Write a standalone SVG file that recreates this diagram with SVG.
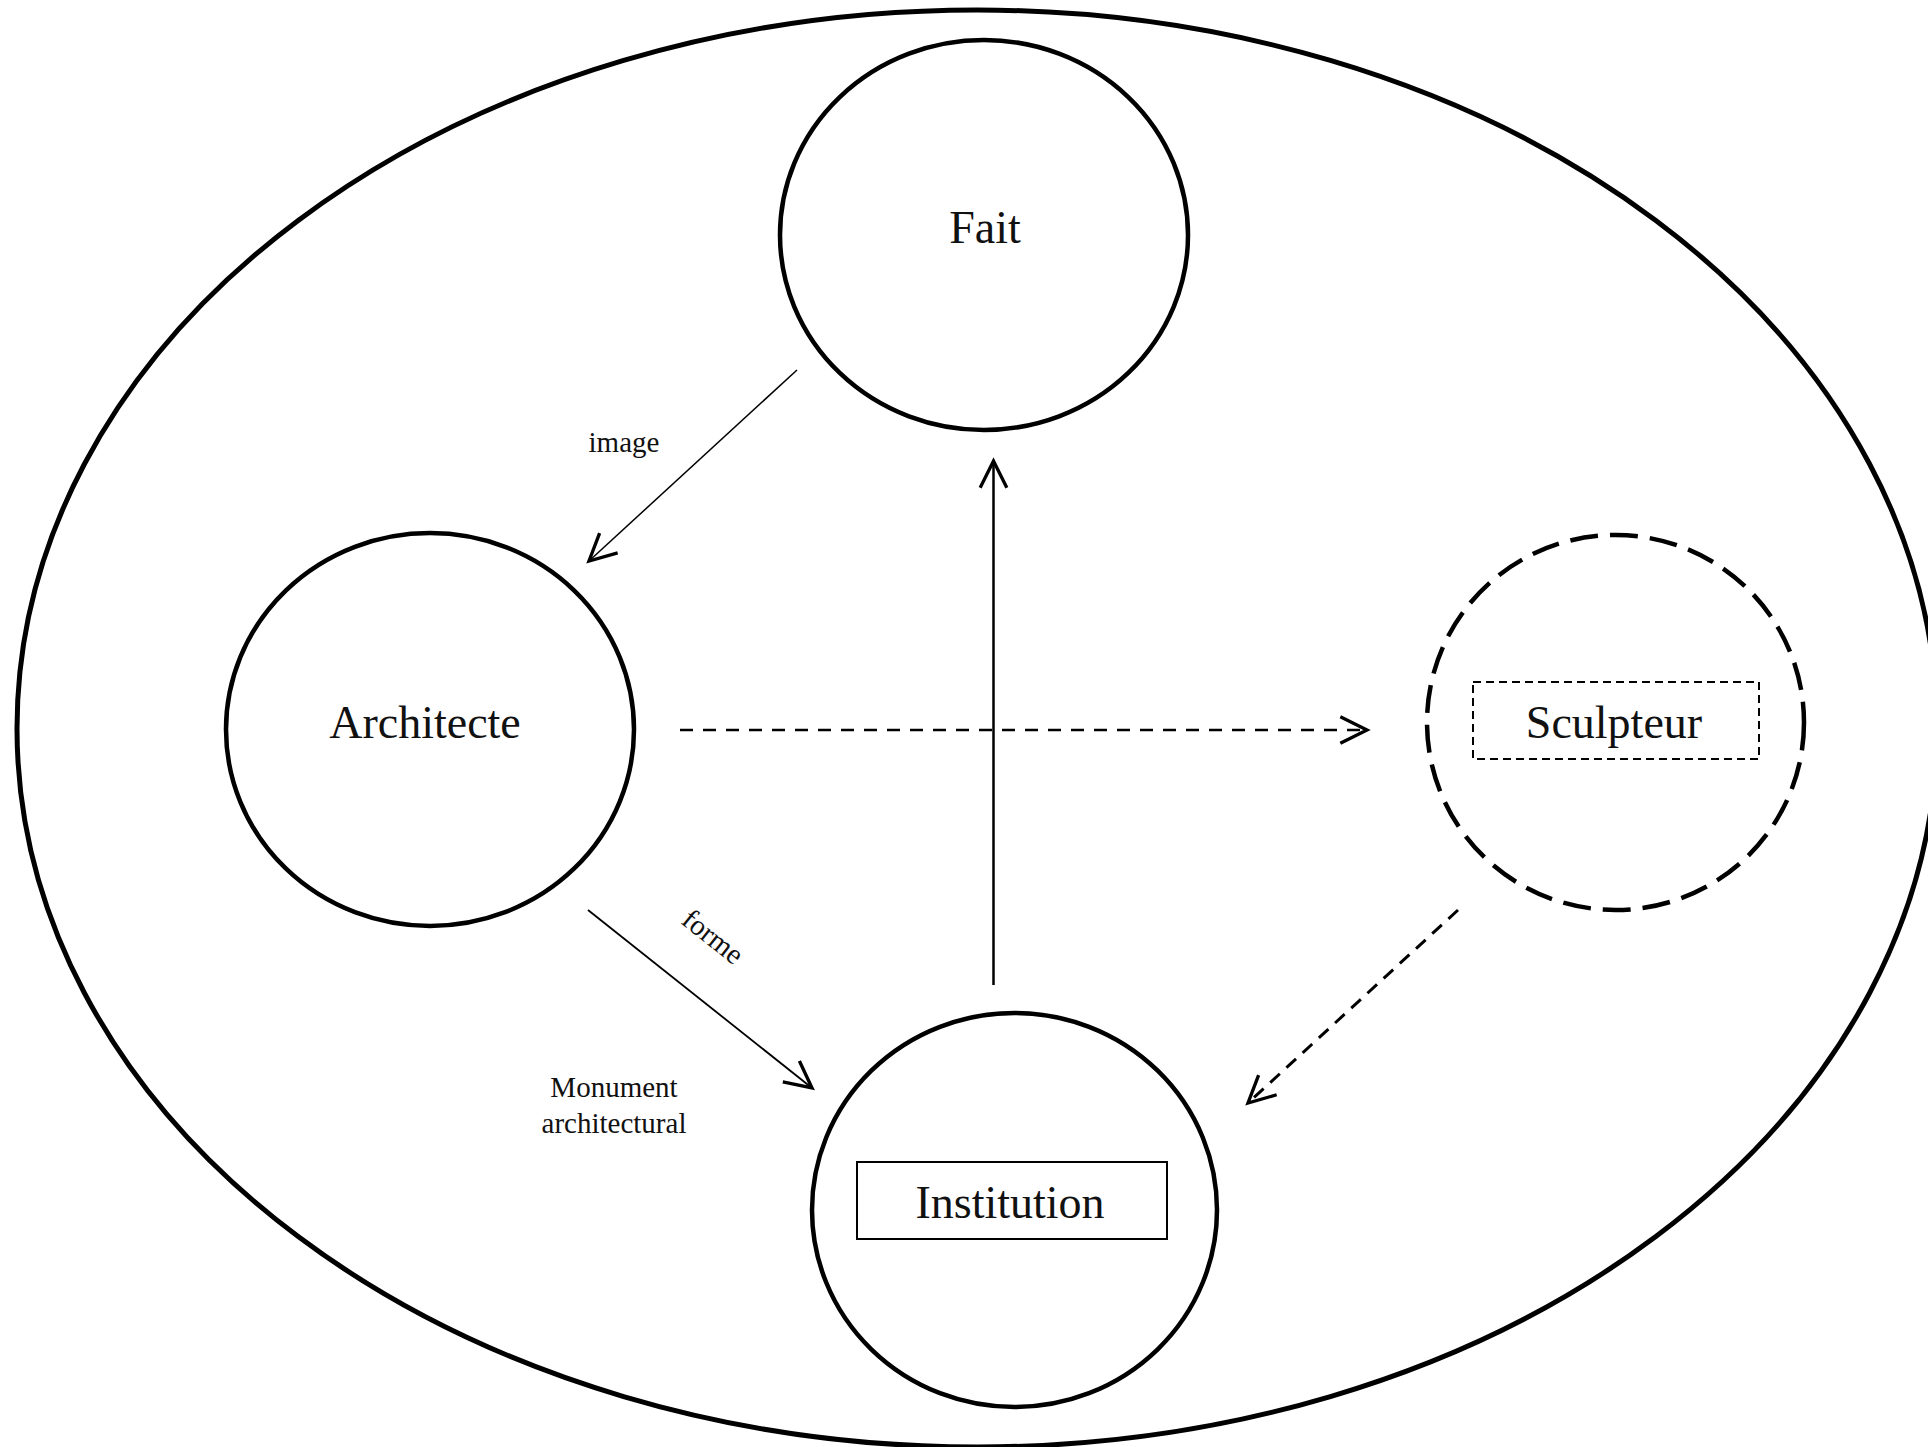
<svg xmlns="http://www.w3.org/2000/svg" width="1928" height="1447" viewBox="0 0 1928 1447">
<style>
.node{fill:none;stroke:#000;stroke-width:4.5}
.lbl{font-family:"Liberation Serif","Times New Roman",serif;font-size:46px;fill:#111;text-anchor:middle}
.small{font-family:"Liberation Serif","Times New Roman",serif;font-size:29px;fill:#111;text-anchor:middle}
.conn{fill:none;stroke:#000}
</style>
<defs>
<marker id="arr" markerUnits="userSpaceOnUse" markerWidth="40" markerHeight="40" refX="0" refY="0" viewBox="-25 -15 30 30" orient="auto" overflow="visible">
<path d="M -20 -10 L 0 0 L -20 10" fill="none" stroke="#000" stroke-width="2.5" stroke-linejoin="miter"/>
</marker>
<linearGradient id="fade" gradientUnits="userSpaceOnUse" x1="797" y1="370" x2="587" y2="563">
<stop offset="0" stop-color="#000"/>
<stop offset="0.5" stop-color="#333"/>
<stop offset="1" stop-color="#ccc"/>
</linearGradient>
</defs>
<rect x="0" y="0" width="1928" height="1447" fill="#fff"/>
<g id="frame">
<ellipse cx="977" cy="728.5" rx="960" ry="718.5" fill="none" stroke="#000" stroke-width="5"/>
</g>
<g id="connectors">
<line class="conn" x1="797" y1="370" x2="589" y2="561" stroke="url(#fade)" stroke-width="1.5" marker-end="url(#arr)"/>
<line class="conn" x1="588" y1="910" x2="812" y2="1088" stroke-width="1.8" marker-end="url(#arr)"/>
<line class="conn" x1="993.5" y1="985" x2="993.5" y2="461" stroke-width="2.5" marker-end="url(#arr)"/>
<line class="conn" x1="680" y1="730" x2="1367" y2="730" stroke-width="2.5" stroke-dasharray="13 10" marker-end="url(#arr)"/>
<line class="conn" x1="1458" y1="910" x2="1248" y2="1103" stroke-width="3" stroke-dasharray="13 9" marker-end="url(#arr)"/>
<text class="small" x="624" y="452">image</text>
<text class="small" transform="translate(712,938) rotate(38.5)" x="0" y="8" font-size="27">forme</text>
<text class="small" x="614" y="1097">Monument</text>
<text class="small" x="614" y="1133">architectural</text>
</g>
<g id="fait">
<ellipse class="node" cx="984" cy="235" rx="204" ry="195"/>
<text class="lbl" x="985" y="243">Fait</text>
</g>
<g id="architecte">
<ellipse class="node" cx="430" cy="729.5" rx="204" ry="196.5"/>
<text class="lbl" x="425" y="738">Architecte</text>
</g>
<g id="institution">
<ellipse class="node" cx="1014.5" cy="1210" rx="202.5" ry="197"/>
<rect x="857" y="1162" width="310" height="77" fill="none" stroke="#000" stroke-width="2"/>
<text class="lbl" x="1010" y="1218">Institution</text>
</g>
<g id="sculpteur">
<ellipse cx="1615.5" cy="722.5" rx="188.5" ry="187.5" fill="none" stroke="#000" stroke-width="4.5" stroke-dasharray="28 12"/>
<rect x="1473" y="682" width="286" height="77" fill="none" stroke="#000" stroke-width="2" stroke-dasharray="8 5"/>
<text class="lbl" x="1614" y="738">Sculpteur</text>
</g>
</svg>
